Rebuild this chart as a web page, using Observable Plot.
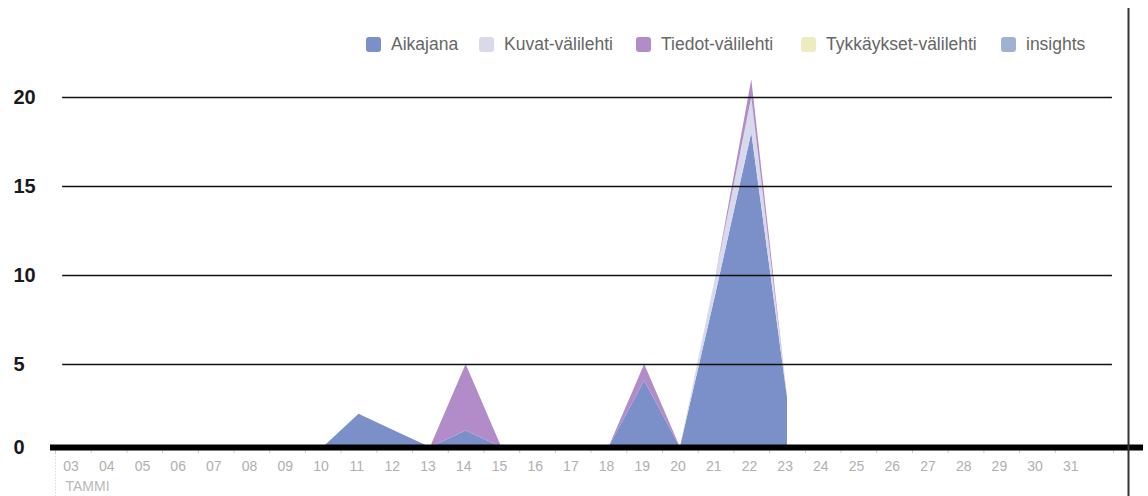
<!DOCTYPE html>
<html>
<head>
<meta charset="utf-8">
<script src="https://cdn.jsdelivr.net/npm/d3@7"></script>
<script src="https://cdn.jsdelivr.net/npm/@observablehq/plot@0.6"></script>
<style>
  html, body { margin: 0; padding: 0; background: #fff; }
  body { width: 1148px; height: 496px; overflow: hidden; font-family: "Liberation Sans", Arial, sans-serif; }
  #legend { position: relative; height: 62px; }
  .item { position: absolute; top: 35px; height: 18px; display: flex; align-items: center; white-space: nowrap; }
  .sw { width: 15px; height: 15px; border-radius: 3px; margin-right: 10px; }
  .lbl { font-size: 17.5px; color: #666; line-height: 18px; }
  #chart svg { overflow: visible; }
</style>
</head>
<body>
<div id="legend"></div>
<div id="chart"></div>
<script>
// ---- data ----
const days = [3,4,5,6,7,8,9,10,11,12,13,14,15,16,17,18,19,20,21,22,23];
const seriesNames = ["Aikajana", "Kuvat-välilehti", "Tiedot-välilehti", "Tykkäykset-välilehti", "insights"];
const aikajana   = [0,0,0,0,0,0,0,0,2,1,0,1,0,0,0,0,4,0,9,18,3];
const kuvat      = [0,0,0,0,0,0,0,0,0,0,0,0,0,0,0,0,0,0,1,2,0];
const tiedot     = [0,0,0,0,0,0,0,0,0,0,0,4,0,0,0,0,1,0,0,1,0];
const tykkaykset = [0,0,0,0,0,0,0,0,0,0,0,0,0,0,0,0,0,0,0,0,0];
const insights   = [0,0,0,0,0,0,0,0,0,0,0,0,0,0,0,0,0,0,0,0,0];
const seriesColors = ["#7b90c9", "#d9d9ec", "#b28cc8", "#ececc0", "#9fb2d6"];
const axisDays = [3,4,5,6,7,8,9,10,11,12,13,14,15,16,17,18,19,20,21,22,23,24,25,26,27,28,29,30,31];
const yTicks = [0, 5, 10, 15, 20];
const gridTicks = [5, 10, 15, 20];
const monthLabel = "TAMMI";

// ---- table ----
const seriesValues = [aikajana, kuvat, tiedot, tykkaykset, insights];
const table = [];
seriesNames.forEach((name, si) => {
  days.forEach((d, i) => table.push({series: name, day: d, value: seriesValues[si][i]}));
});

// ---- legend ----
const legendX = [366, 479, 636, 801, 1001];
const legend = document.getElementById("legend");
seriesNames.forEach((name, i) => {
  const it = document.createElement("div");
  it.className = "item";
  it.style.left = legendX[i] + "px";
  it.innerHTML = `<span class="sw" style="background:${seriesColors[i]}"></span><span class="lbl">${name}</span>`;
  legend.appendChild(it);
});

// ---- chart ----
// the original axis has a slightly compressed first interval (0–5)
const firstStep = 83 / 89;
const yWarp = v => v <= 5 ? v * firstStep : 5 * firstStep + (v - 5);
const xEnd = 32.63;
const chart = Plot.plot({
  width: 1148,
  height: 434,
  marginLeft: 55,
  marginRight: 35,
  marginTop: 0,
  marginBottom: 49,
  style: {fontFamily: "'Liberation Sans', Arial, sans-serif", overflow: "visible", background: "transparent"},
  x: {type: "linear", domain: [3, xEnd], axis: null},
  y: {transform: yWarp, domain: [0, yWarp(20)], range: [385, 35], axis: null},
  color: {domain: seriesNames, range: seriesColors},
  marks: [
    Plot.areaY(table, {x: d => d.day + 0.5, y: "value", z: "series", fill: "series", curve: "linear"}),
    Plot.ruleY(gridTicks, {x1: 3.2, x2: 32.6, stroke: "#111", strokeWidth: 1.5}),
    Plot.ruleX(axisDays, {x: d => d, y1: 0, y2: -0.36, stroke: "#c8c8c8"}),
    Plot.ruleX([xEnd], {x: d => d, y1: 0, y2: -0.36, stroke: "#c8c8c8"}),
    Plot.ruleX([3], {x: d => d, y1: -0.2, y2: -2.95, stroke: "#c8c8c8", strokeDasharray: "1,2"}),
    Plot.ruleY([0], {x1: 2.86, x2: 33.47, stroke: "#000", strokeWidth: 6}),
    Plot.ruleX([33.05], {x: d => d, y1: 25, y2: -2.95, stroke: "#333", strokeWidth: 2}),
    Plot.text(axisDays, {x: d => d, text: d => String(d).padStart(2, "0"), frameAnchor: "bottom", dy: 23, dx: 15.5, fontSize: 14, fill: "#b0b0b0"}),
    Plot.text([monthLabel], {x: 3, text: d => d, frameAnchor: "bottom", dy: 43, dx: 10, textAnchor: "start", fontSize: 14, fill: "#b8b8b8"}),
    Plot.text(yTicks, {y: d => d, text: d => String(d), frameAnchor: "left", dx: -42, textAnchor: "start", fontSize: 20, fontWeight: "bold", fill: "#1a1a1a"})
  ]
});
document.getElementById("chart").appendChild(chart);
</script>
</body>
</html>
